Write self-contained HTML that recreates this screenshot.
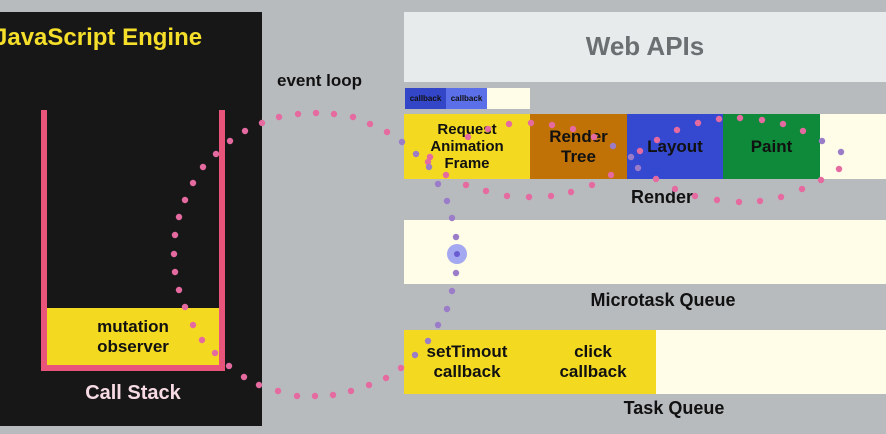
<!DOCTYPE html>
<html><head><meta charset="utf-8"><style>
body{margin:0;width:886px;height:434px;background:#b8bbbe;position:relative;overflow:hidden;font-family:"Liberation Sans",sans-serif;font-weight:bold}
div{position:absolute;box-sizing:border-box}
.c{display:flex;align-items:center;justify-content:center;text-align:center;color:#111;line-height:1.15}
circle{}
</style></head><body>
<div style="left:0;top:12px;width:262px;height:414px;background:#171717"></div>
<div style="left:-6px;top:24px;font-size:24px;color:#f5df2a;white-space:nowrap">JavaScript Engine</div>
<div style="left:41px;top:110px;width:6px;height:261px;background:#e9547a"></div>
<div style="left:219px;top:110px;width:6px;height:261px;background:#e9547a"></div>
<div style="left:41px;top:365px;width:184px;height:6px;background:#e9547a"></div>
<div class="c" style="left:47px;top:308px;width:172px;height:57px;background:#f3da21;font-size:17px">mutation<br>observer</div>
<div class="c" style="left:60px;top:380px;width:146px;height:26px;font-size:20px;color:#f7dbe3">Call Stack</div>
<div style="left:277px;top:71px;font-size:17px;color:#111">event loop</div>

<div class="c" style="left:404px;top:12px;width:482px;height:70px;background:#e8ebeb;font-size:26px;color:#6b6f72">Web APIs</div>
<div class="c" style="left:405px;top:88px;width:41px;height:21px;background:#3346c8;font-size:8px">callback</div>
<div class="c" style="left:446px;top:88px;width:41px;height:21px;background:#5b6fe8;font-size:8px">callback</div>
<div style="left:487px;top:88px;width:43px;height:21px;background:#fffde8"></div>

<div class="c" style="left:404px;top:114px;width:126px;height:65px;background:#f3da21;font-size:15px">Request<br>Animation<br>Frame</div>
<div class="c" style="left:530px;top:114px;width:97px;height:65px;background:#c07206;font-size:17px">Render<br>Tree</div>
<div class="c" style="left:627px;top:114px;width:96px;height:65px;background:#3548d0;font-size:17px">Layout</div>
<div class="c" style="left:723px;top:114px;width:97px;height:65px;background:#0e8a3a;font-size:17px">Paint</div>
<div style="left:820px;top:114px;width:66px;height:65px;background:#fffde8"></div>
<div class="c" style="left:600px;top:185px;width:124px;height:24px;font-size:18px">Render</div>

<div style="left:404px;top:220px;width:482px;height:64px;background:#fffde8"></div>
<div class="c" style="left:540px;top:288px;width:246px;height:24px;font-size:18px">Microtask Queue</div>

<div class="c" style="left:404px;top:330px;width:126px;height:64px;background:#f3da21;font-size:17px">setTimout<br>callback</div>
<div class="c" style="left:530px;top:330px;width:126px;height:64px;background:#f3da21;font-size:17px">click<br>callback</div>
<div style="left:656px;top:330px;width:230px;height:64px;background:#fffde8"></div>
<div class="c" style="left:600px;top:396px;width:148px;height:24px;font-size:18px">Task Queue</div>

<svg width="886" height="434" style="position:absolute;left:0;top:0">
<g fill="#e46aa0">
<circle cx="245" cy="131" r="3.2"/><circle cx="230" cy="141" r="3.2"/><circle cx="216" cy="154" r="3.2"/><circle cx="203" cy="167" r="3.2"/><circle cx="193" cy="183" r="3.2"/><circle cx="185" cy="200" r="3.2"/><circle cx="179" cy="217" r="3.2"/><circle cx="175" cy="235" r="3.2"/><circle cx="174" cy="254" r="3.2"/><circle cx="175" cy="272" r="3.2"/><circle cx="179" cy="290" r="3.2"/><circle cx="185" cy="307" r="3.2"/><circle cx="193" cy="325" r="3.2"/><circle cx="202" cy="340" r="3.2"/><circle cx="215" cy="353" r="3.2"/><circle cx="229" cy="366" r="3.2"/><circle cx="244" cy="377" r="3.2"/><circle cx="259" cy="385" r="3.2"/><circle cx="278" cy="391" r="3.2"/><circle cx="297" cy="396" r="3.2"/><circle cx="315" cy="396" r="3.2"/><circle cx="333" cy="395" r="3.2"/><circle cx="351" cy="391" r="3.2"/><circle cx="369" cy="385" r="3.2"/><circle cx="386" cy="378" r="3.2"/><circle cx="401" cy="368" r="3.2"/>
<circle cx="262" cy="123" r="3.2"/><circle cx="279" cy="117" r="3.2"/><circle cx="298" cy="114" r="3.2"/><circle cx="316" cy="113" r="3.2"/><circle cx="334" cy="114" r="3.2"/><circle cx="353" cy="117" r="3.2"/><circle cx="370" cy="124" r="3.2"/><circle cx="387" cy="132" r="3.2"/>
<circle cx="430" cy="157" r="3.2"/><circle cx="446" cy="175" r="3.2"/><circle cx="466" cy="185" r="3.2"/><circle cx="486" cy="191" r="3.2"/><circle cx="507" cy="196" r="3.2"/><circle cx="529" cy="197" r="3.2"/><circle cx="551" cy="196" r="3.2"/><circle cx="571" cy="192" r="3.2"/><circle cx="592" cy="185" r="3.2"/><circle cx="611" cy="175" r="3.2"/>
<circle cx="657" cy="140" r="3.2"/><circle cx="677" cy="130" r="3.2"/><circle cx="698" cy="123" r="3.2"/><circle cx="719" cy="119" r="3.2"/><circle cx="740" cy="118" r="3.2"/><circle cx="762" cy="120" r="3.2"/><circle cx="783" cy="124" r="3.2"/><circle cx="803" cy="131" r="3.2"/>
<circle cx="839" cy="169" r="3.2"/><circle cx="821" cy="180" r="3.2"/><circle cx="802" cy="189" r="3.2"/><circle cx="781" cy="197" r="3.2"/><circle cx="760" cy="201" r="3.2"/><circle cx="739" cy="202" r="3.2"/><circle cx="717" cy="200" r="3.2"/><circle cx="695" cy="196" r="3.2"/><circle cx="675" cy="189" r="3.2"/><circle cx="656" cy="179" r="3.2"/>
<circle cx="468" cy="137" r="3.2"/><circle cx="488" cy="129" r="3.2"/><circle cx="509" cy="124" r="3.2"/><circle cx="531" cy="123" r="3.2"/><circle cx="552" cy="125" r="3.2"/><circle cx="573" cy="129" r="3.2"/><circle cx="594" cy="137" r="3.2"/><circle cx="640" cy="151" r="3.2"/><circle cx="428" cy="162" r="3.2"/>
</g>
<g fill="#9a7cc8">
<circle cx="402" cy="142" r="3.2"/><circle cx="416" cy="154" r="3.2"/><circle cx="429" cy="167" r="3.2"/><circle cx="438" cy="184" r="3.2"/><circle cx="447" cy="201" r="3.2"/><circle cx="452" cy="218" r="3.2"/><circle cx="456" cy="237" r="3.2"/><circle cx="456" cy="273" r="3.2"/><circle cx="452" cy="291" r="3.2"/><circle cx="447" cy="309" r="3.2"/><circle cx="438" cy="325" r="3.2"/><circle cx="428" cy="341" r="3.2"/><circle cx="415" cy="355" r="3.2"/>
<circle cx="613" cy="146" r="3.2"/><circle cx="631" cy="157" r="3.2"/><circle cx="638" cy="168" r="3.2"/><circle cx="822" cy="141" r="3.2"/><circle cx="841" cy="152" r="3.2"/>
</g>
<circle cx="457" cy="254" r="10" fill="#a4a8f0"/><circle cx="457" cy="254" r="3" fill="#6a5cd0"/>
</svg>
</body></html>
